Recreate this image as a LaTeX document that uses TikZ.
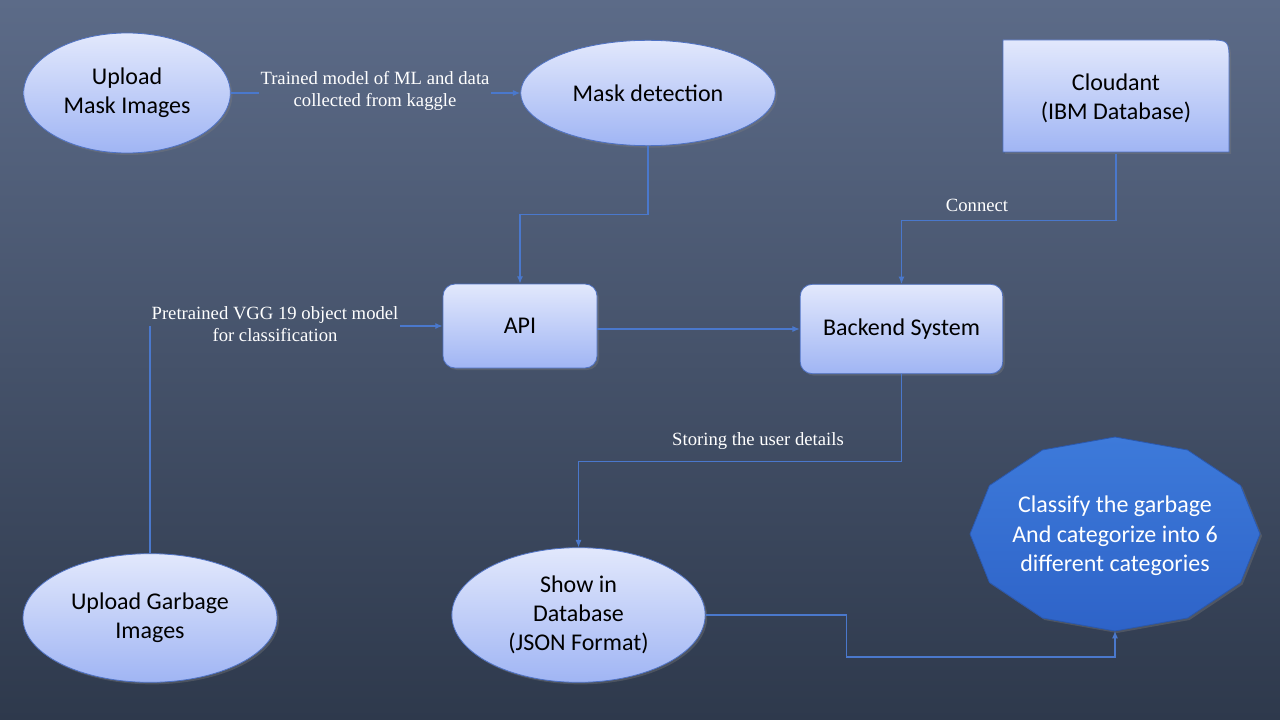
\documentclass[tikz,border=0pt]{standalone}
\usepackage{fontspec}
\setmainfont{Liberation Serif}
\newfontfamily\calib{Carlito}
\usetikzlibrary{shapes.geometric,arrows.meta,shadows,calc}
\definecolor{bgtop}{HTML}{5C6B88}
\definecolor{bgbot}{HTML}{2E394C}
\definecolor{ntop}{HTML}{E2E8FC}
\definecolor{nbot}{HTML}{A0B5F4}
\definecolor{nedge}{HTML}{4F72C4}
\definecolor{lnc}{HTML}{4A78CC}
\definecolor{dtop}{HTML}{3D7ADA}
\definecolor{dbot}{HTML}{2E63C8}
\definecolor{dedge}{HTML}{2A58AE}
\tikzset{
  nodebox/.style={draw=nedge, line width=0.6pt, top color=ntop, bottom color=nbot,
    font=\calib\fontsize{18}{21.8}\selectfont, text=black, align=center, inner sep=0pt,
    drop shadow={shadow xshift=1.5pt, shadow yshift=-1.5pt, opacity=0.35}},
  ellnode/.style={nodebox, ellipse},
  rectnode/.style={nodebox, rectangle, rounded corners=9pt},
  conn/.style={draw=lnc, line width=0.8pt, -{Latex[length=5.5pt,width=4.5pt]}},
  plain/.style={draw=lnc, line width=0.8pt},
  lbl/.style={font=\fontsize{14}{17}\selectfont, text=white, align=center, inner sep=1pt}
}
\begin{document}
\begin{tikzpicture}[x=0.75pt, y=-0.75pt]
\shade[top color=bgtop, bottom color=bgbot] (0,0) rectangle (1280,720);
\useasboundingbox (0,0) rectangle (1280,720);

% nodes
\node[ellnode, minimum width=155pt, minimum height=90pt] (ump) at (127,93) {Upload\\Mask Images};
\node[ellnode, minimum width=191pt, minimum height=79pt] (mask) at (648,93) {Mask detection};

% Cloudant box (single rounded corner)
\path[draw=nedge, line width=0.6pt, top color=ntop, bottom color=nbot,
  drop shadow={shadow xshift=1.5pt, shadow yshift=-1.5pt, opacity=0.35}]
  (1003,152) -- (1003,40) -- (1207,40) .. controls (1229,40) .. (1229,62) -- (1229,152) -- cycle;
\node[font=\calib\fontsize{18}{21.8}\selectfont, align=center, inner sep=0pt,
  minimum width=169.5pt, minimum height=84pt] (cloud) at (1116,98) {Cloudant\\(IBM Database)};

\node[rectnode, minimum width=115.5pt, minimum height=63pt] (api) at (520,326) {API};
\node[rectnode, minimum width=152pt, minimum height=67pt] (be) at (901.5,329) {Backend System};

\node[ellnode, minimum width=190.5pt, minimum height=96.5pt] (ugi) at (150,618) {Upload Garbage\\Images};
\node[ellnode, minimum width=190pt, minimum height=101pt] (sdb) at (578.5,615) {Show in\\Database\\(JSON Format)};

% dodecagon
\path[draw=dedge, line width=0.6pt, top color=dtop, bottom color=dbot,
  drop shadow={shadow xshift=1.5pt, shadow yshift=-1.5pt, opacity=0.35}]
  plot[samples at={0,30,...,330}, variable=\t] ({1115+145*cos(\t)},{534+97*sin(\t)}) -- cycle;
\node[font=\calib\fontsize{18}{22}\selectfont, text=white, align=center, inner sep=0pt] (cls) at (1115,536)
  {Classify the garbage\\And categorize into 6\\different categories};
\coordinate (clsb) at (1115,631);

% labels
\node[lbl] (l1) at (375,91) {Trained model of ML and data\\collected from kaggle};
\node[lbl] (l2) at (275,324) {Pretrained VGG 19 object model\\for classification};
\node[lbl] (l3) at (977,205) {Connect};
\node[lbl] (l4) at (758,441) {Storing the user details};

% connectors
\draw[plain] (ump.east) -- (ump.east -| l1.west);
\draw[conn] (ump.east -| l1.east) -- (mask.west);

\draw[conn] (mask.south) -- ++(0,68) -| (api.north);

\draw[plain] (ugi.north) -- (ugi.north |- api.west);
\draw[conn] (api.west -| l2.east) -- (api.west);

\draw[conn] (be.west -| api.east) -- (be.west);

\draw[conn] (cloud.south) -- ++(0,66) -| (be.north);

\draw[conn] (be.south) -- ++(0,87) -| (sdb.north);

\draw[conn] (sdb.east) -| ++(141,42) -| (clsb);
\end{tikzpicture}
\end{document}
